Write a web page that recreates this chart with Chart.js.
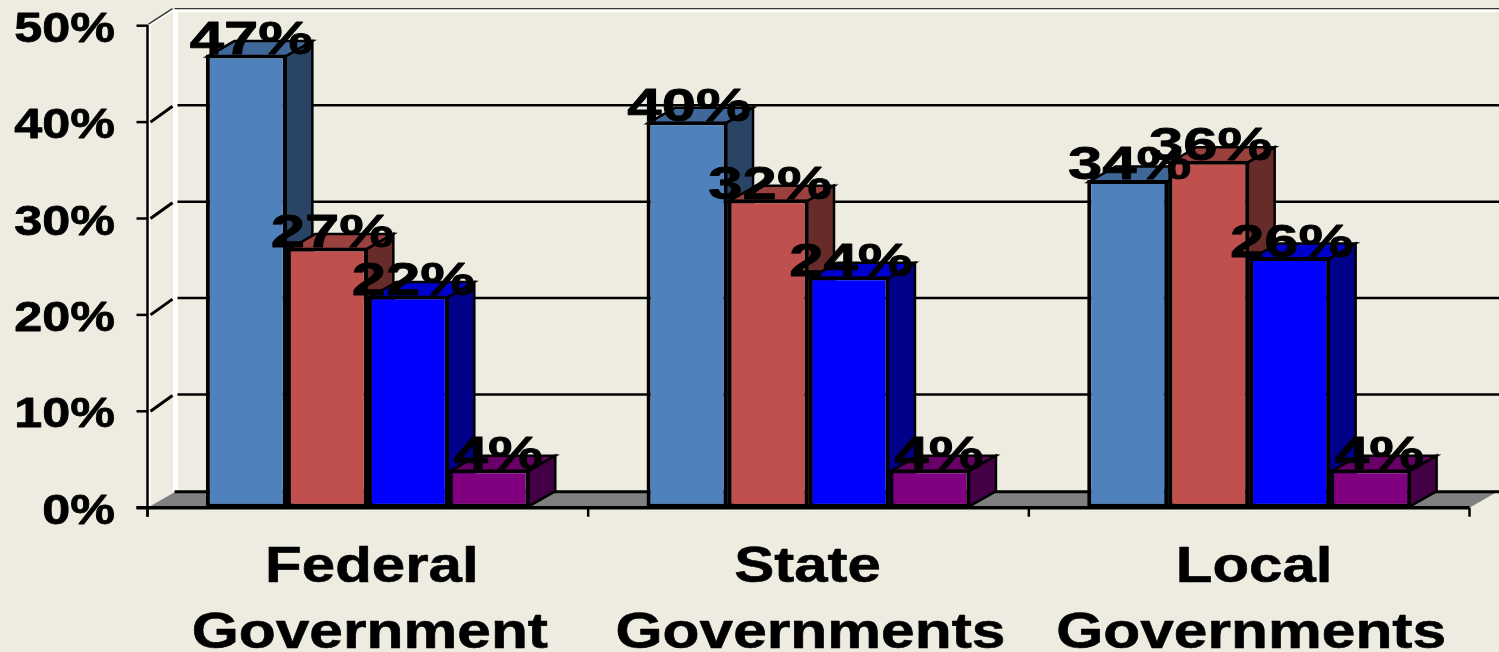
<!DOCTYPE html>
<html><head><meta charset="utf-8">
<script src="https://cdn.jsdelivr.net/npm/chart.js@4"></script>
<style>html,body{margin:0;padding:0;background:#eeece1;overflow:hidden}canvas{display:block}</style>
</head><body><canvas id="c" width="1499" height="652"></canvas>
<script>
const categories = [["Federal","Government"],["State","Governments"],["Local","Governments"]];
const seriesA = [47, 40.1, 34];
const seriesB = [27, 32, 36];
const seriesC = [22, 24, 26];
const seriesD = [4, 4, 4];
const frontColors = ["#4f81bd","#c0504d","#0000ff","#800080"];
const topColors = ["#3f6797","#9a403e","#0000cc","#660066"];
const sideColors = ["#2a4465","#672b29","#000088","#440044"];
const DX = 27, DY = 15.5, GRID_DY = 16.8;
const FONT = '"Liberation Sans", Arial, sans-serif';

function stretched(ctx, text, x, y, size, sx, align, bold) {
  ctx.save();
  ctx.font = "bold " + size + "px " + FONT;
  ctx.fillStyle = "#000";
  ctx.strokeStyle = "#000";
  ctx.lineWidth = bold;
  ctx.lineJoin = "round";
  ctx.textBaseline = "alphabetic";
  ctx.textAlign = align;
  ctx.translate(x, y);
  ctx.scale(sx, 1);
  ctx.fillText(text, 0, 0);
  ctx.strokeText(text, 0, 0);
  ctx.restore();
}
function poly(ctx, pts, fill, stroke, lw) {
  ctx.beginPath();
  pts.forEach((p, i) => i ? ctx.lineTo(p[0], p[1]) : ctx.moveTo(p[0], p[1]));
  ctx.closePath();
  if (fill) { ctx.fillStyle = fill; ctx.fill(); }
  if (stroke) { ctx.strokeStyle = stroke; ctx.lineWidth = lw; ctx.lineJoin = "miter"; ctx.stroke(); }
}
function line(ctx, x1, y1, x2, y2, color, lw) {
  ctx.beginPath(); ctx.moveTo(x1, y1); ctx.lineTo(x2, y2);
  ctx.strokeStyle = color; ctx.lineWidth = lw; ctx.stroke();
}

const box3d = {
  id: "box3d",
  beforeDatasetsDraw(chart) {
    const ctx = chart.ctx, a = chart.chartArea, ys = chart.scales.y;
    const L = a.left, R = a.right, B = a.bottom, T = a.top;
    const backL = L + DX, backB = B - DY, backT = T - DY;
    const edge = 1499;
    poly(ctx, [[L, B], [backL, backB], [R + DX, backB], [R, B]], "#808080");
    line(ctx, backL + 1, backT, backL + 1, backB, "#ffffff", 5);
    line(ctx, backL, backB - 0.5, edge, backB - 0.5, "#000000", 3);
    line(ctx, backL, backT - 1.5, edge, backT - 1.5, "#3a3a34", 1.5);
    line(ctx, backL - 2, backT + 0.5, edge, backT + 0.5, "#ffffff", 2.5);
    line(ctx, L + 1, T, backL - 2, backT, "#ffffff", 2.5);
    line(ctx, L + 1, T - 1.5, backL - 2, backT - 1.5, "#3a3a34", 1.5);
    line(ctx, L + 2, B, L + 2, T, "#ffffff", 2);
    ys.ticks.forEach(t => {
      const y = ys.getPixelForValue(t.value);
      if (t.value > 0 && t.value < 50) {
        line(ctx, L + 3, y, backL - 2, y - GRID_DY + 1, "#000", 3);
        line(ctx, backL + 3, y - GRID_DY, edge, y - GRID_DY, "#000", 2.5);
      }
    });
    line(ctx, L, T - 1, L, B + 9, "#000", 2.5);
    ys.ticks.forEach(t => {
      const y = ys.getPixelForValue(t.value);
      line(ctx, L - 11, y, L, y, "#000", 2.5);
      stretched(ctx, t.value + "%", 115, y + 16, 43, 1.17, "right", 0.8);
    });
    line(ctx, L - 11, B, R, B, "#000", 3.5);
    const xs = chart.scales.x, cw = (R - L) / categories.length;
    for (let i = 0; i <= categories.length; i++) {
      const x = L + i * cw;
      line(ctx, x, B, x, B + 9, "#000", 2.5);
    }
    const nudge = [4, -1, 5];
    categories.forEach((lines, i) => {
      const cx = xs.getPixelForValue(i);
      stretched(ctx, lines[0], cx + nudge[i], 582, 50, 1.2, "center", 0.6);
      stretched(ctx, lines[1], cx + 2, 648, 50, 1.21, "center", 0.6);
    });
  },
  beforeDatasetDraw() { return false; },
  afterDatasetsDraw(chart) {
    const ctx = chart.ctx;
    const n = chart.data.datasets.length;
    for (let d = 0; d < n; d++) {
      const meta = chart.getDatasetMeta(d);
      meta.data.forEach(el => {
        const l = el.x - el.width / 2, r = el.x + el.width / 2, t = el.y, b = el.base;
        const il = l + 1.5, ir = r - 1.5, it = t + 2, ib = b - 1;
        poly(ctx, [[il, it], [il + DX, it - DY], [ir + DX, it - DY], [ir, it]], topColors[d], "#000", 2.5);
        poly(ctx, [[ir, it], [ir + DX, it - DY], [ir + DX, ib - DY], [ir, ib]], sideColors[d], "#000", 2.5);
      });
      meta.controller.draw();
    }
    for (let d = 0; d < n; d++) {
      const meta = chart.getDatasetMeta(d);
      meta.data.forEach((el, i) => {
        const v = chart.data.datasets[d].data[i];
        const shift = v < 10 ? 9 : (i === 0 ? 5 : 2);
        stretched(ctx, Math.round(v) + "%", el.x + shift, el.y - 0.5, 46, 1.34, "center", 0.8);
      });
    }
  }
};

new Chart(document.getElementById("c"), {
  type: "bar",
  data: {
    labels: categories,
    datasets: [seriesA, seriesB, seriesC, seriesD].map((data, i) => ({
      data,
      backgroundColor: frontColors[i],
      borderColor: "#000",
      borderWidth: 4,
      borderSkipped: false,
      categoryPercentage: 0.735,
      barPercentage: 1
    }))
  },
  options: {
    responsive: false,
    animation: false,
    layout: { padding: { left: 147.5, right: 29.5, top: 25.7, bottom: 144.3 } },
    plugins: { legend: { display: false }, tooltip: { enabled: false } },
    scales: {
      x: { display: false },
      y: { display: false, min: 0, max: 50, ticks: { stepSize: 10 } }
    }
  },
  plugins: [box3d]
});
</script></body></html>
